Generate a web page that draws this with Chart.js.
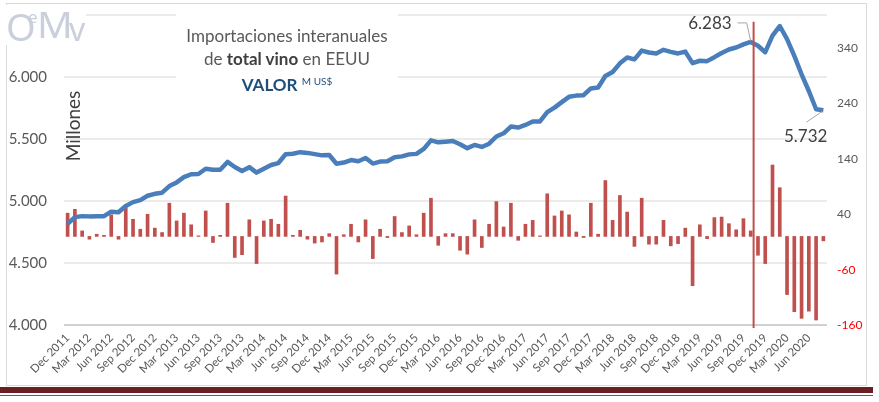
<!DOCTYPE html>
<html>
<head>
<meta charset="utf-8">
<script src="https://cdn.jsdelivr.net/npm/chart.js@4/dist/chart.umd.min.js"></script>
<style>
  body { margin: 0; background: #fff; font-family: Lato, "Open Sans", sans-serif; }
  #wrap { position: relative; width: 879px; height: 402px; overflow: hidden; }
  #chart { position: absolute; left: 0; top: 0; }
  #frame { position: absolute; left: 6px; top: 3px; width: 861px; height: 383px; border: 1px solid #d9d9d9; box-sizing: border-box; }
  #logo { position: absolute; left: 6px; top: 5px; width: 80px; height: 40px; background: #fff; color: #c9cfdb; font-family: "Noto Sans", sans-serif; line-height: 1; }
  #logo span { position: absolute; display: inline-block; transform-origin: left top; }
  #logo .o { left: 0px; top: 2px; font-size: 38px; }
  #logo .e { left: 22px; top: 3px; font-size: 17px; }
  #logo .m { left: 31px; top: 2px; font-size: 36px; transform: scaleX(1.1); }
  #logo .v { left: 63px; top: 8px; font-size: 32px; }
  #titulo { position: absolute; left: 176px; top: 10px; width: 222px; height: 82px; background: #fff; text-align: center; color: #595959; font-size: 17px; line-height: 22.5px; padding-top: 15px; box-sizing: border-box; }
  #titulo b { color: #404040; }
  #titulo .valor { color: #1f4e79; font-weight: bold; }
  #titulo sup { color: #1f4e79; font-size: 10px; font-weight: normal; vertical-align: 6px; }
  #millones { position: absolute; left: 72px; top: 126px; transform: translate(-50%, -50%) rotate(-90deg); color: #404040; font-size: 19px; white-space: nowrap; }
  #banda { position: absolute; left: 0; top: 387px; width: 873px; height: 6px; background: #6a1f22; }
  #banda2 { position: absolute; left: 0; top: 395px; width: 873px; height: 1px; background: #8c4a4c; }
</style>
</head>
<body>
<div id="wrap">
  <canvas id="chart" width="879" height="402"></canvas>
  <div id="frame"></div>
  <div id="logo"><span class="o">O</span><span class="e">e</span><span class="m">M</span><span class="v">v</span></div>
  <div id="titulo">Importaciones interanuales<br>de <b>total vino</b> en EEUU<br><span class="valor">VALOR</span> <sup>M US$</sup></div>
  <div id="millones">Millones</div>
  <div id="banda"></div>
  <div id="banda2"></div>
</div>
<script>
const meses = [
  'Dec 2011',
  'Jan 2012', 'Feb 2012', 'Mar 2012', 'Apr 2012', 'May 2012', 'Jun 2012', 'Jul 2012', 'Aug 2012', 'Sep 2012', 'Oct 2012', 'Nov 2012', 'Dec 2012',
  'Jan 2013', 'Feb 2013', 'Mar 2013', 'Apr 2013', 'May 2013', 'Jun 2013', 'Jul 2013', 'Aug 2013', 'Sep 2013', 'Oct 2013', 'Nov 2013', 'Dec 2013',
  'Jan 2014', 'Feb 2014', 'Mar 2014', 'Apr 2014', 'May 2014', 'Jun 2014', 'Jul 2014', 'Aug 2014', 'Sep 2014', 'Oct 2014', 'Nov 2014', 'Dec 2014',
  'Jan 2015', 'Feb 2015', 'Mar 2015', 'Apr 2015', 'May 2015', 'Jun 2015', 'Jul 2015', 'Aug 2015', 'Sep 2015', 'Oct 2015', 'Nov 2015', 'Dec 2015',
  'Jan 2016', 'Feb 2016', 'Mar 2016', 'Apr 2016', 'May 2016', 'Jun 2016', 'Jul 2016', 'Aug 2016', 'Sep 2016', 'Oct 2016', 'Nov 2016', 'Dec 2016',
  'Jan 2017', 'Feb 2017', 'Mar 2017', 'Apr 2017', 'May 2017', 'Jun 2017', 'Jul 2017', 'Aug 2017', 'Sep 2017', 'Oct 2017', 'Nov 2017', 'Dec 2017',
  'Jan 2018', 'Feb 2018', 'Mar 2018', 'Apr 2018', 'May 2018', 'Jun 2018', 'Jul 2018', 'Aug 2018', 'Sep 2018', 'Oct 2018', 'Nov 2018', 'Dec 2018',
  'Jan 2019', 'Feb 2019', 'Mar 2019', 'Apr 2019', 'May 2019', 'Jun 2019', 'Jul 2019', 'Aug 2019', 'Sep 2019', 'Oct 2019', 'Nov 2019', 'Dec 2019',
  'Jan 2020', 'Feb 2020', 'Mar 2020', 'Apr 2020', 'May 2020', 'Jun 2020', 'Jul 2020', 'Aug 2020'
];

// valor interanual (M US$), eje izquierdo
const valorInteranual = [
  4815,
  4870, 4878, 4876, 4877, 4878, 4914, 4909, 4960, 4991, 5007, 5042, 5058,
  5067, 5120, 5150, 5192, 5216, 5218, 5260, 5252, 5252, 5315, 5274, 5242,
  5273, 5229, 5260, 5290, 5306, 5377, 5381, 5394, 5388, 5378, 5368, 5371,
  5300, 5310, 5330, 5320, 5347, 5302, 5318, 5320, 5353, 5360, 5376, 5380,
  5420, 5489, 5473, 5478, 5484, 5458, 5426, 5452, 5436, 5462, 5520, 5546,
  5600, 5592, 5613, 5641, 5642, 5716, 5753, 5797, 5840, 5850, 5853, 5908,
  5915, 6008, 6040, 6110, 6157, 6142, 6213, 6198, 6190, 6219, 6203, 6190,
  6205, 6112, 6131, 6128, 6160, 6194, 6222, 6238, 6263, 6283, 6252, 6200,
  6333, 6411, 6305, 6170, 6022, 5887, 5740, 5732
];

// variacion mensual (M US$), eje derecho
const variacion = [
  42,
  49, 10, -5, 4, 2, 39, -5, 52, 31, 13, 40, 15,
  7, 60, 28, 42, 21, 1, 46, -11, 2, 60, -38, -33,
  30, -49, 28, 31, 22, 73, 2, 11, -5, -12, -10, 5,
  -68, 3, 22, -10, 30, -40, 13, -2, 36, 7, 19, 3,
  42, 69, -16, 5, 5, -25, -32, 30, -20, 22, 63, 17,
  60, -7, 22, 29, 1, 77, 37, 46, 39, 8, -2, 60,
  4, 101, 29, 74, 44, -18, 69, -14, -14, 29, -17, -13,
  15, -89, 21, -4, 34, 35, 23, 12, 32, 10, -34, -49,
  129, 88, -105, -136, -148, -135, -151, -8
];

const ticksDerecha = [-160, -60, 40, 140, 240, 340];
const puntosEtiqueta = [94, 104];   // indices con etiqueta de valor
const marcaIndice = 94.4;           // linea vertical roja (oct 2019)

function miles(v) {
  return String(v).replace(/\B(?=(\d{3})+(?!\d))/g, '.');
}

const etiquetas = {
  id: 'etiquetas',
  afterDatasetsDraw(chart) {
    const { ctx, scales: { x, y } } = chart;
    ctx.save();

    // linea vertical
    const xm = x.getPixelForValue(marcaIndice);
    ctx.strokeStyle = '#c0504d';
    ctx.lineWidth = 2;
    ctx.beginPath();
    ctx.moveTo(xm, y.getPixelForValue(6445));
    ctx.lineTo(xm, chart.chartArea.bottom + 3);
    ctx.stroke();

    ctx.font = '17px Lato, "Open Sans", sans-serif';
    ctx.fillStyle = '#404040';
    ctx.strokeStyle = '#a6a6a6';
    ctx.lineWidth = 1;
    ctx.textBaseline = 'middle';

    // 6.283
    let i = puntosEtiqueta[0];
    let px = x.getPixelForValue(i), py = y.getPixelForValue(valorInteranual[i]);
    ctx.textAlign = 'right';
    ctx.fillText(miles(valorInteranual[i]), px - 19, py - 18);
    ctx.beginPath();
    ctx.moveTo(px - 13, py - 19);
    ctx.lineTo(px - 4, py - 19);
    ctx.lineTo(px, py - 1);
    ctx.stroke();

    // 5.732
    i = puntosEtiqueta[1];
    px = x.getPixelForValue(i); py = y.getPixelForValue(valorInteranual[i]);
    ctx.fillText(miles(valorInteranual[i]), px + 4, py + 26);
    ctx.beginPath();
    ctx.moveTo(px - 17, py + 12);
    ctx.lineTo(px - 1, py + 1);
    ctx.stroke();

    ctx.restore();
  }
};

const ctx = document.getElementById('chart').getContext('2d');

new Chart(ctx, {
  type: 'bar',
  data: {
    labels: meses,
    datasets: [
      {
        type: 'line',
        label: 'Valor interanual',
        data: valorInteranual,
        yAxisID: 'y',
        borderColor: '#4a7ebb',
        borderWidth: 4.5,
        pointRadius: 0,
        tension: 0,
        borderJoinStyle: 'round',
        order: 1
      },
      {
        type: 'bar',
        label: 'Variacion',
        data: variacion,
        yAxisID: 'y1',
        backgroundColor: '#c0504d',
        barThickness: 3,
        order: 2
      }
    ]
  },
  options: {
    responsive: false,
    devicePixelRatio: 1,
    animation: false,
    events: [],
    layout: { padding: { top: 15, left: 0, right: 0, bottom: 0 } },
    plugins: { legend: { display: false }, tooltip: { enabled: false } },
    scales: {
      x: {
        grid: { display: false, drawTicks: false },
        border: { display: false },
        ticks: {
          autoSkip: false,
          minRotation: 45,
          maxRotation: 45,
          padding: 6,
          color: '#595959',
          font: { family: 'Lato', size: 11.5 },
          callback(v, i) { return i % 3 === 0 ? this.getLabelForValue(v) : null; }
        },
        afterFit(s) { s.height = 77; s.paddingLeft = 0; s.paddingRight = 0; }
      },
      y: {
        position: 'left',
        min: 4000,
        max: 6500,
        grid: {
          drawTicks: false,
          color: c => c.tick.value === 4000 ? '#d0d0d0' : '#ebebeb',
          lineWidth: 2
        },
        border: { display: false },
        ticks: {
          stepSize: 500,
          padding: 17,
          color: '#595959',
          font: { family: 'Lato', size: 15 },
          callback: v => v === 6500 ? '' : miles(v)
        },
        afterFit(s) { s.width = 64; s.paddingTop = 0; s.paddingBottom = 0; }
      },
      y1: {
        position: 'right',
        min: -160,
        max: 400,
        grid: { display: false, drawTicks: false },
        border: { display: false },
        afterBuildTicks(s) { s.ticks = ticksDerecha.map(v => ({ value: v })); },
        ticks: {
          padding: 10,
          color: c => c.tick.value < 0 ? '#ff0000' : '#595959',
          font: { family: 'Lato', size: 12 }
        },
        afterFit(s) { s.width = 52; s.paddingTop = 0; s.paddingBottom = 0; }
      }
    }
  },
  plugins: [etiquetas]
});
</script>
</body>
</html>
